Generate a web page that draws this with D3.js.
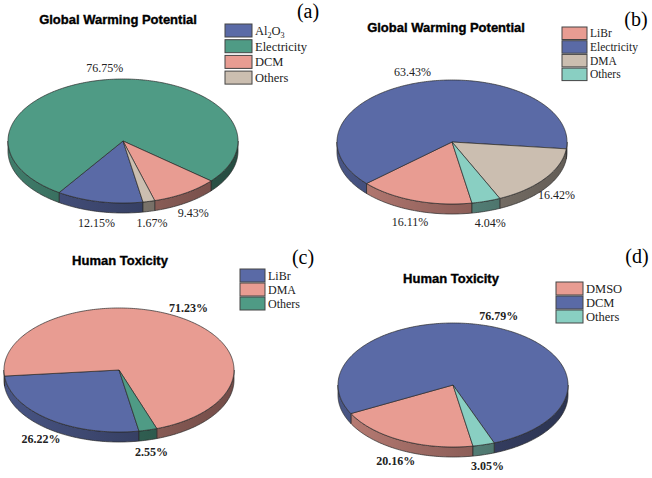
<!DOCTYPE html>
<html>
<head>
<meta charset="UTF-8">
<title>Pie charts</title>
<script src="https://d3js.org/d3.v7.min.js"></script>
<style>
  body { margin: 0; background: #fff; }
  .title { font-family: "Liberation Sans", Arial, sans-serif; font-weight: bold; font-size: 13px;
           stroke: #000; stroke-width: 0.35; }
  .letter { font-family: "Liberation Serif", "Times New Roman", serif; font-size: 20px; }
  .legend text { font-family: "Liberation Serif", "Times New Roman", serif; }
  .pct { font-family: "Liberation Serif", "Times New Roman", serif; font-size: 12px; fill: #222; }
</style>
</head>
<body>
<script>
// ---- data ----
var catsA = ["Al2O3", "Electricity", "DCM", "Others"];
var valsA = [12.15, 76.75, 9.43, 1.67];
var catsB = ["LiBr", "Electricity", "DMA", "Others"];
var valsB = [16.11, 63.43, 16.42, 4.04];
var catsC = ["LiBr", "DMA", "Others"];
var valsC = [26.22, 71.23, 2.55];
var catsD = ["DMSO", "DCM", "Others"];
var valsD = [20.16, 76.79, 3.05];

var titles = ["Global Warming Potential", "Global Warming Potential", "Human Toxicity", "Human Toxicity"];
var letters = ["(a)", "(b)", "(c)", "(d)"];

var blue = "#5a6aa6", green = "#4f9b85", salmon = "#e89c92", beige = "#cbbeb0", teal = "#89cfc2";

var panels = [
  {cats: catsA, vals: valsA, colors: [blue, green, salmon, beige], cx: 123, cy: 141, bold: false,
   title: [118, 24], letter: [308, 18], leg: {x: 225, y: 24, w: 27, h: 13, step: 15.7, fs: 12.5}},
  {cats: catsB, vals: valsB, colors: [salmon, blue, beige, teal], cx: 452, cy: 142, bold: false,
   title: [446, 32], letter: [636, 26], leg: {x: 562, y: 27, w: 25, h: 12.5, step: 13.7, fs: 11.5}},
  {cats: catsC, vals: valsC, colors: [blue, salmon, green], cx: 119, cy: 370, bold: true,
   title: [120, 265], letter: [303, 264], leg: {x: 240, y: 269, w: 25, h: 13, step: 14, fs: 12}},
  {cats: catsD, vals: valsD, colors: [salmon, blue, teal], cx: 453, cy: 385, bold: true,
   title: [451, 283], letter: [637, 263], leg: {x: 556, y: 282, w: 27, h: 13, step: 14, fs: 12.5}}
];

var rx = 115, ry = 62, depth = 10;
var start = 170 * Math.PI / 180;   // first slice starts here (d3 angle, clockwise from 12 o'clock)

var svg = d3.select("body").append("svg")
    .attr("width", 652).attr("height", 478);
var defs = svg.append("defs");

var line = d3.line();

// side wall shade: lighter on the left, darker on the right
function shade(col, cosT) { return d3.color(col).darker(1.3 + 0.7 * cosT); }

panels.forEach(function (p, i) {
  var g = svg.append("g");
  var pie = d3.pie().sort(null).startAngle(start).endAngle(start + 2 * Math.PI);
  var arcs = pie(p.vals);

  function pt(t, dy) { return [p.cx + rx * Math.cos(t), p.cy + ry * Math.sin(t) + (dy || 0)]; }
  function toT(a) { return a - Math.PI / 2; }

  // one horizontal gradient per slice colour
  p.colors.forEach(function (col, j) {
    var grad = defs.append("linearGradient").attr("id", "side" + i + "_" + j)
      .attr("gradientUnits", "userSpaceOnUse")
      .attr("x1", p.cx - rx).attr("x2", p.cx + rx).attr("y1", 0).attr("y2", 0);
    d3.range(11).forEach(function (q) {
      var f = q / 10;
      grad.append("stop").attr("offset", f).attr("stop-color", shade(col, 2 * f - 1));
    });
  });

  // side walls (front half only)
  arcs.forEach(function (d, j) {
    var t0 = toT(d.startAngle), t1 = toT(d.endAngle);
    [0, 2 * Math.PI].forEach(function (k) {
      var lo = Math.max(t0, k), hi = Math.min(t1, k + Math.PI);
      if (hi <= lo) return;
      var n = Math.max(2, Math.ceil((hi - lo) / (Math.PI / 180)));
      var ts = d3.range(n + 1).map(function (q) { return lo + (hi - lo) * q / n; });
      var outline = ts.map(function (t) { return pt(t); })
        .concat(ts.slice().reverse().map(function (t) { return pt(t, depth); }));
      g.append("path").attr("d", line(outline) + "Z")
        .attr("fill", "url(#side" + i + "_" + j + ")")
        .attr("stroke", "#2a2a2a").attr("stroke-width", 0.7)
        .attr("stroke-linejoin", "round");
    });
  });

  // top faces
  arcs.forEach(function (d, j) {
    var t0 = toT(d.startAngle), t1 = toT(d.endAngle);
    var n = Math.max(2, Math.ceil((t1 - t0) / (Math.PI / 180)));
    var pts = [[p.cx, p.cy]].concat(d3.range(n + 1).map(function (q) { return pt(t0 + (t1 - t0) * q / n); }));
    g.append("path").attr("d", line(pts) + "Z")
      .attr("fill", p.colors[j]).attr("stroke", "#2a2a2a").attr("stroke-width", 0.7)
      .attr("stroke-linejoin", "round");
  });

  // percentage labels
  arcs.forEach(function (d) {
    var t = toT((d.startAngle + d.endAngle) / 2);
    var x = p.cx + (rx + 14) * Math.cos(t);
    var y = p.cy + (ry + 12) * Math.sin(t) + (Math.sin(t) > 0 ? depth : 0);
    g.append("text").attr("class", "pct")
      .attr("x", x).attr("y", y + 4)
      .attr("text-anchor", "middle")
      .attr("font-weight", p.bold ? "bold" : "normal")
      .text(d3.format(".2f")(d.data) + "%");
  });

  // title and panel letter
  g.append("text").attr("class", "title")
    .attr("x", p.title[0]).attr("y", p.title[1]).attr("text-anchor", "middle").text(titles[i]);
  g.append("text").attr("class", "letter")
    .attr("x", p.letter[0]).attr("y", p.letter[1]).attr("text-anchor", "middle").text(letters[i]);

  // legend
  var L = p.leg;
  var leg = g.append("g").attr("class", "legend");
  p.cats.forEach(function (name, j) {
    var y = L.y + j * L.step;
    leg.append("rect").attr("x", L.x).attr("y", y).attr("width", L.w).attr("height", L.h)
      .attr("fill", p.colors[j]).attr("stroke", "#444").attr("stroke-width", 1);
    var tx = leg.append("text").attr("x", L.x + L.w + 3).attr("y", y + L.h / 2 + L.fs * 0.35)
      .attr("font-size", L.fs + "px").attr("fill", "#222");
    // digits become subscripts (Al2O3)
    var down = false;
    name.split(/(\d)/).filter(function (s) { return s.length; }).forEach(function (s) {
      var isSub = /\d/.test(s);
      var ts = tx.append("tspan").text(s);
      if (isSub) { ts.attr("font-size", (L.fs * 0.65) + "px").attr("dy", 3); down = true; }
      else if (down) { ts.attr("dy", -3); down = false; }
    });
  });
});
</script>
</body>
</html>
